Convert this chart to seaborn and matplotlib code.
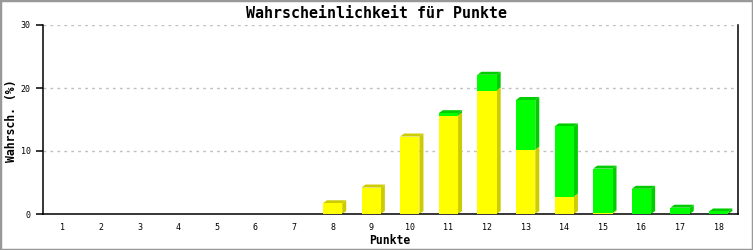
import matplotlib
matplotlib.use("Agg")
import matplotlib.pyplot as plt
from matplotlib.patches import Polygon, Rectangle
import seaborn as sns
import pandas as pd

points = [str(i) for i in range(1, 19)]
yellow = [0, 0, 0, 0, 0, 0, 0, 1.7, 4.2, 12.3, 15.6, 19.6, 10.2, 2.75, 0.15, 0, 0, 0]
green = [0, 0, 0, 0, 0, 0, 0, 0, 0, 0, 0.4, 2.5, 7.9, 11.15, 7.05, 4.0, 1.0, 0.4]
yticks = [0, 10, 20, 30]

title = "Wahrscheinlichkeit für Punkte"
xlabel = "Punkte"
ylabel = "Wahrsch. (%)"

C_Y, C_YD = "#ffff00", "#cccc00"
C_G, C_GD = "#00ff00", "#00cc00"

total = [a + b for a, b in zip(yellow, green)]
df = pd.DataFrame({"p": points, "yellow": yellow, "total": total})

sns.set_style("white")
plt.rcParams["font.family"] = ["DejaVu Sans Mono", "DejaVu Sans"]

W, H = 753, 250
fig = plt.figure(figsize=(W / 100, H / 100), dpi=100)
ax = fig.add_axes([43 / W, (H - 214) / H, (738 - 43) / W, (214 - 25) / H])

sns.barplot(data=df, x="p", y="total", color=C_G, saturation=1, width=0.5,
            linewidth=0, ax=ax, zorder=3)
sns.barplot(data=df, x="p", y="yellow", color=C_Y, saturation=1, width=0.5,
            linewidth=0, ax=ax, zorder=3)

ax.set_xlim(-0.5, 17.5)
ax.set_ylim(0, 30)

# 3D depth in data units (4 px right, 3 px up)
px_x = 17.5 - (-0.5)
dx = 4 * px_x / (738 - 43)
dy = 3 * 30 / (214 - 25)

n = len(points)
green_bars = ax.patches[:n]
yellow_bars = ax.patches[n:2 * n]
for i in range(n):
    gb, yb = green_bars[i], yellow_bars[i]
    x0 = gb.get_x()
    x1 = x0 + gb.get_width()
    t = gb.get_height()
    yv = yb.get_height()
    if t <= 0:
        continue
    if green[i] > 0:
        ax.add_patch(Polygon([(x1, yv), (x1 + dx, yv + dy), (x1 + dx, t + dy), (x1, t)],
                             closed=True, facecolor=C_GD, edgecolor="none", zorder=2))
    if yv > 0:
        ax.add_patch(Polygon([(x1, 0), (x1 + dx, min(dy, yv + dy)), (x1 + dx, yv + dy), (x1, yv)],
                             closed=True, facecolor=C_YD, edgecolor="none", zorder=2))
    topc = C_GD if green[i] > 0 else C_YD
    ax.add_patch(Polygon([(x0, t), (x0 + dx, t + dy), (x1 + dx, t + dy), (x1, t)],
                         closed=True, facecolor=topc, edgecolor="none", zorder=2))

ax.set_yticks(yticks)
ax.set_yticklabels([str(v) for v in yticks])
for v in yticks[1:]:
    ax.axhline(v, color="#c0c0c0", lw=1, ls=(0, (2, 3)), zorder=1)

for s in ["left", "bottom", "right"]:
    ax.spines[s].set_visible(True)
    ax.spines[s].set_color("black")
    ax.spines[s].set_linewidth(1.1)
ax.spines["top"].set_visible(False)

ax.tick_params(axis="y", left=True, length=5, width=1.1, color="black", pad=4,
               labelsize=6, labelcolor="black")
ax.tick_params(axis="x", bottom=False, pad=3, labelsize=6, labelcolor="black")

ax.set_xlabel("")
ax.set_ylabel("")
fig.text(390 / W, 1 - 240 / H, xlabel, ha="center", va="center", fontsize=8.3,
         fontweight="bold", color="black")
fig.text(12 / W, 1 - 121 / H, ylabel, ha="center", va="center", rotation=90,
         fontsize=8.3, fontweight="bold", color="black")
fig.text(0.5, 1 - 13 / H, title, ha="center", va="center", fontsize=10.8,
         fontweight="bold", color="black")

fig.patches.append(Rectangle((0, 0), 1, 1, transform=fig.transFigure, fill=False,
                             edgecolor="#999999", lw=2.5, zorder=10))

fig.savefig("out.png", dpi=100)
